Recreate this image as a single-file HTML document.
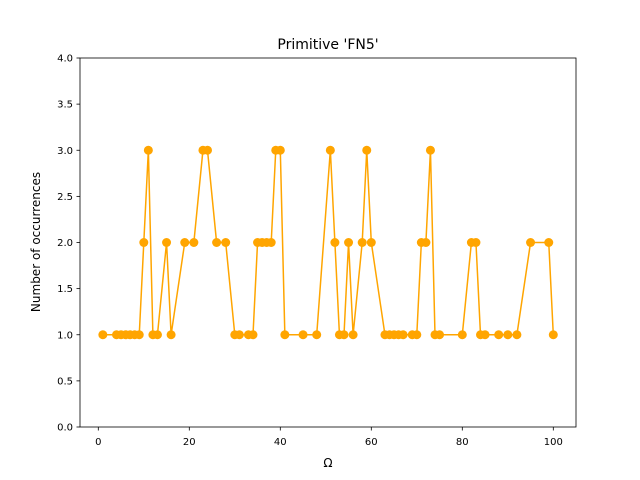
<!DOCTYPE html>
<html><head><meta charset="utf-8"><style>body{margin:0;background:#fff}svg{display:block;font-family:"DejaVu Sans","Liberation Sans",sans-serif}</style></head>
<body>
<svg id="chart" width="640" height="480">
<rect width="640" height="480" fill="#fff"/>
<text x="328" y="49" text-anchor="middle" font-size="14">Primitive 'FN5'</text>
<g id="plot"></g>
<rect x="80" y="58" width="496" height="369" fill="none" stroke="#000" stroke-width="0.8"/>
<text x="328" y="467" text-anchor="middle" font-size="12">Ω</text>
<text transform="translate(40,242) rotate(-90)" text-anchor="middle" font-size="12">Number of occurrences</text>
</svg>
<script>
const xs=[1,4,5,6,7,8,9,10,11,12,13,15,16,19,21,23,24,26,28,30,31,33,34,35,36,37,38,39,40,41,45,48,51,52,53,54,55,56,58,59,60,63,64,65,66,67,69,70,71,72,73,74,75,80,82,83,84,85,88,90,92,95,99,100];
const ys=[1,1,1,1,1,1,1,2,3,1,1,2,1,2,2,3,3,2,2,1,1,1,1,2,2,2,2,3,3,1,1,1,3,2,1,1,2,1,2,3,2,1,1,1,1,1,1,1,2,2,3,1,1,1,2,2,1,1,1,1,1,2,2,1];
const xTicks=[0,20,40,60,80,100];
const yTicks=[0,0.5,1,1.5,2,2.5,3,3.5,4];
const X=v=>98.3+v*4.55, Y=v=>427-v*92.25;
const NS='http://www.w3.org/2000/svg';
const g=document.getElementById('plot');
function mk(t,a){const e=document.createElementNS(NS,t);for(const k in a)e.setAttribute(k,a[k]);g.appendChild(e);return e;}
xTicks.forEach(t=>{
 const l=mk('line',{x1:X(t),x2:X(t),y1:427,y2:430.5,stroke:'#000','stroke-width':0.8});
 
 
 const s=mk('text',{x:X(t),y:445,'text-anchor':'middle','font-size':10});s.textContent=t;
 
 
});
yTicks.forEach(t=>{
 const l=mk('line',{x1:76.5,x2:80,y1:Y(t),y2:Y(t),stroke:'#000','stroke-width':0.8});
 
 
 const s=mk('text',{x:73,y:Y(t)+3.5,'text-anchor':'end','font-size':10});s.textContent=t.toFixed(1);
 
 
});
const line=mk('polyline',{points:xs.map((x,i)=>X(x)+','+Y(ys[i])).join(' '),fill:'none',stroke:'orange','stroke-width':1.5});


xs.forEach((x,i)=>{
 const c=mk('circle',{cx:X(x),cy:Y(ys[i]),r:4.5,fill:'orange'});
 
 
});
</script>
</body></html>
